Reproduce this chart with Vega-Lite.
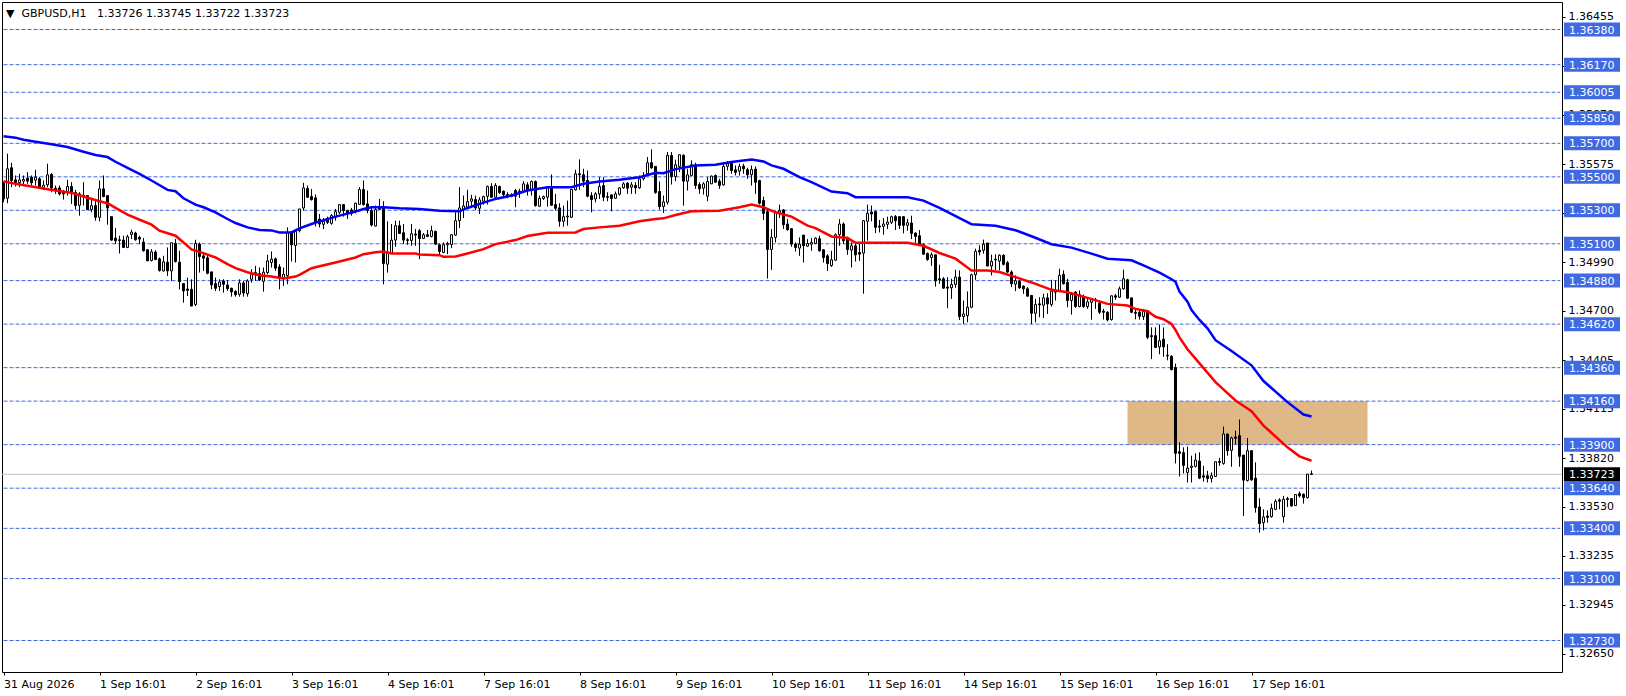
{"$schema":"https://vega.github.io/schema/vega-lite/v6.json","width":1560,"height":670,"autosize":"none","padding":{"left":2,"top":2,"right":64,"bottom":24},"background":"#ffffff","view":{"stroke":"#000000","strokeWidth":1,"fill":"#ffffff"},
"title":{"text":"▼\u00a0\u00a0GBPUSD,H1\u00a0\u00a0\u00a01.33726 1.33745 1.33722 1.33723","anchor":"start","frame":"group","orient":"top","offset":-17,"dx":4,"font":"DejaVu Sans","fontSize":11,"fontWeight":"normal","color":"#000000"},
"config":{"font":"DejaVu Sans","axis":{"labelFont":"DejaVu Sans","labelFontSize":11,"labelColor":"#000000","tickColor":"#000000","domain":false,"grid":false,"title":null}},
"datasets":{
"zone":[{"start":281,"end":341,"low":1.339,"high":1.3416}],
"levels":[{"level":1.3638},{"level":1.3617},{"level":1.36005},{"level":1.3585},{"level":1.357},{"level":1.355},{"level":1.353},{"level":1.351},{"level":1.3488},{"level":1.3462},{"level":1.3436},{"level":1.3416},{"level":1.339},{"level":1.3364},{"level":1.334},{"level":1.331},{"level":1.3273}],
"last":[{"level":1.33723}],
"blue":[{"bar":0,"p":1.35742},{"bar":3,"p":1.35734},{"bar":5,"p":1.35722},{"bar":8,"p":1.3571},{"bar":12,"p":1.35694},{"bar":16,"p":1.35678},{"bar":20,"p":1.3565},{"bar":23,"p":1.3563},{"bar":26,"p":1.35618},{"bar":28,"p":1.3559},{"bar":31,"p":1.35554},{"bar":34,"p":1.35518},{"bar":37,"p":1.35478},{"bar":41,"p":1.35422},{"bar":43,"p":1.35414},{"bar":45,"p":1.35372},{"bar":48,"p":1.35334},{"bar":50,"p":1.35318},{"bar":53,"p":1.35288},{"bar":56,"p":1.35248},{"bar":58,"p":1.35224},{"bar":61,"p":1.35198},{"bar":64,"p":1.35182},{"bar":67,"p":1.3518},{"bar":69,"p":1.35168},{"bar":72,"p":1.35168},{"bar":74,"p":1.35192},{"bar":77,"p":1.35218},{"bar":79,"p":1.35234},{"bar":84,"p":1.35268},{"bar":88,"p":1.35292},{"bar":90,"p":1.35308},{"bar":92,"p":1.35318},{"bar":95,"p":1.35318},{"bar":99,"p":1.35312},{"bar":104,"p":1.35308},{"bar":109,"p":1.35298},{"bar":114,"p":1.35294},{"bar":116,"p":1.35314},{"bar":120,"p":1.35346},{"bar":123,"p":1.35368},{"bar":127,"p":1.35388},{"bar":131,"p":1.35418},{"bar":136,"p":1.35438},{"bar":142,"p":1.35438},{"bar":145,"p":1.35458},{"bar":149,"p":1.35472},{"bar":154,"p":1.35482},{"bar":159,"p":1.35498},{"bar":163,"p":1.35524},{"bar":165,"p":1.35522},{"bar":168,"p":1.35546},{"bar":173,"p":1.35568},{"bar":178,"p":1.35572},{"bar":182,"p":1.35588},{"bar":187,"p":1.35604},{"bar":190,"p":1.35592},{"bar":192,"p":1.35568},{"bar":195,"p":1.35548},{"bar":199,"p":1.35498},{"bar":202,"p":1.35468},{"bar":207,"p":1.35412},{"bar":211,"p":1.35402},{"bar":213,"p":1.35378},{"bar":226,"p":1.35378},{"bar":230,"p":1.35358},{"bar":234,"p":1.35314},{"bar":240,"p":1.35241},{"bar":242,"p":1.35217},{"bar":248,"p":1.35207},{"bar":253,"p":1.35181},{"bar":257,"p":1.35145},{"bar":262,"p":1.35097},{"bar":267,"p":1.35077},{"bar":272,"p":1.35041},{"bar":276,"p":1.35011},{"bar":282,"p":1.35001},{"bar":285,"p":1.34971},{"bar":289,"p":1.34927},{"bar":292,"p":1.34888},{"bar":293,"p":1.34873},{"bar":294,"p":1.34814},{"bar":296,"p":1.34754},{"bar":297,"p":1.34704},{"bar":299,"p":1.34645},{"bar":301,"p":1.34595},{"bar":303,"p":1.34524},{"bar":307,"p":1.3446},{"bar":312,"p":1.34374},{"bar":315,"p":1.3428},{"bar":321,"p":1.34154},{"bar":325,"p":1.3408},{"bar":327,"p":1.34068}],
"red":[{"bar":0,"p":1.35474},{"bar":3,"p":1.35458},{"bar":7,"p":1.35442},{"bar":10,"p":1.3543},{"bar":13,"p":1.35418},{"bar":17,"p":1.35404},{"bar":20,"p":1.35382},{"bar":24,"p":1.35354},{"bar":26,"p":1.35342},{"bar":28,"p":1.35314},{"bar":31,"p":1.35274},{"bar":33,"p":1.35254},{"bar":37,"p":1.35214},{"bar":39,"p":1.35178},{"bar":43,"p":1.35148},{"bar":45,"p":1.35108},{"bar":47,"p":1.35066},{"bar":50,"p":1.35044},{"bar":53,"p":1.35018},{"bar":56,"p":1.34978},{"bar":58,"p":1.34954},{"bar":61,"p":1.3493},{"bar":64,"p":1.34912},{"bar":67,"p":1.34904},{"bar":70,"p":1.34892},{"bar":73,"p":1.34904},{"bar":74,"p":1.34914},{"bar":77,"p":1.34954},{"bar":79,"p":1.34966},{"bar":83,"p":1.34988},{"bar":88,"p":1.35018},{"bar":90,"p":1.35038},{"bar":93,"p":1.3505},{"bar":95,"p":1.35054},{"bar":97,"p":1.35042},{"bar":103,"p":1.35042},{"bar":104,"p":1.35036},{"bar":109,"p":1.35032},{"bar":110,"p":1.35022},{"bar":113,"p":1.35024},{"bar":116,"p":1.35042},{"bar":120,"p":1.35068},{"bar":123,"p":1.35098},{"bar":128,"p":1.35122},{"bar":131,"p":1.35146},{"bar":136,"p":1.35166},{"bar":143,"p":1.35168},{"bar":145,"p":1.35188},{"bar":149,"p":1.35198},{"bar":154,"p":1.35208},{"bar":159,"p":1.35234},{"bar":163,"p":1.35248},{"bar":165,"p":1.35252},{"bar":168,"p":1.35272},{"bar":172,"p":1.35294},{"bar":179,"p":1.35298},{"bar":184,"p":1.35318},{"bar":187,"p":1.35334},{"bar":190,"p":1.35318},{"bar":193,"p":1.35288},{"bar":197,"p":1.35262},{"bar":201,"p":1.35208},{"bar":203,"p":1.35194},{"bar":207,"p":1.35144},{"bar":211,"p":1.35134},{"bar":213,"p":1.35106},{"bar":226,"p":1.35106},{"bar":230,"p":1.35088},{"bar":234,"p":1.35045},{"bar":238,"p":1.35011},{"bar":242,"p":1.34941},{"bar":246,"p":1.34941},{"bar":249,"p":1.34931},{"bar":253,"p":1.34901},{"bar":257,"p":1.34869},{"bar":262,"p":1.34825},{"bar":266,"p":1.34811},{"bar":271,"p":1.34777},{"bar":276,"p":1.34741},{"bar":281,"p":1.34731},{"bar":283,"p":1.34711},{"bar":286,"p":1.34697},{"bar":288,"p":1.34664},{"bar":290,"p":1.34649},{"bar":292,"p":1.34621},{"bar":293,"p":1.34585},{"bar":294,"p":1.34541},{"bar":296,"p":1.3447},{"bar":298,"p":1.34414},{"bar":303,"p":1.34274},{"bar":308,"p":1.34164},{"bar":312,"p":1.341},{"bar":315,"p":1.34014},{"bar":321,"p":1.33884},{"bar":324,"p":1.3383},{"bar":327,"p":1.33804}],
"candles":[
{"bar":0,"o":1.35468,"h":1.35468,"l":1.35348,"c":1.35368},{"bar":1,"o":1.35372,"h":1.35638,"l":1.35342,"c":1.35548},{"bar":2,"o":1.35554,"h":1.35584,"l":1.35438,"c":1.35478},{"bar":3,"o":1.35482,"h":1.35508,"l":1.35442,"c":1.35464},{"bar":4,"o":1.35466,"h":1.35518,"l":1.35438,"c":1.35482},{"bar":5,"o":1.35474,"h":1.35508,"l":1.35448,"c":1.35484},{"bar":6,"o":1.35492,"h":1.35528,"l":1.35458,"c":1.35474},{"bar":7,"o":1.35498,"h":1.35508,"l":1.35448,"c":1.35464},{"bar":8,"o":1.3548,"h":1.35542,"l":1.35448,"c":1.35498},{"bar":9,"o":1.35488,"h":1.35498,"l":1.35428,"c":1.35438},
{"bar":10,"o":1.35436,"h":1.35478,"l":1.35422,"c":1.3545},{"bar":11,"o":1.35452,"h":1.35578,"l":1.35438,"c":1.35512},{"bar":12,"o":1.35514,"h":1.35522,"l":1.35408,"c":1.35434},{"bar":13,"o":1.35432,"h":1.35448,"l":1.35398,"c":1.35418},{"bar":14,"o":1.35434,"h":1.35448,"l":1.35388,"c":1.35398},{"bar":15,"o":1.35414,"h":1.35422,"l":1.35364,"c":1.35398},{"bar":16,"o":1.35412,"h":1.35482,"l":1.35388,"c":1.35442},{"bar":17,"o":1.35442,"h":1.35468,"l":1.35338,"c":1.35402},{"bar":18,"o":1.35406,"h":1.35422,"l":1.35304,"c":1.35328},{"bar":19,"o":1.3533,"h":1.35408,"l":1.35268,"c":1.35398},
{"bar":20,"o":1.3539,"h":1.35468,"l":1.35328,"c":1.3538},{"bar":21,"o":1.35388,"h":1.35388,"l":1.35304,"c":1.35304},{"bar":22,"o":1.35304,"h":1.35368,"l":1.35288,"c":1.35328},{"bar":23,"o":1.35328,"h":1.35354,"l":1.35238,"c":1.35258},{"bar":24,"o":1.35258,"h":1.35478,"l":1.35234,"c":1.35428},{"bar":25,"o":1.35428,"h":1.35508,"l":1.35378,"c":1.35382},{"bar":26,"o":1.35388,"h":1.35388,"l":1.35214,"c":1.35314},{"bar":27,"o":1.35262,"h":1.35262,"l":1.35118,"c":1.35122},{"bar":28,"o":1.35134,"h":1.35194,"l":1.35098,"c":1.35118},{"bar":29,"o":1.35124,"h":1.35148,"l":1.35042,"c":1.3512},
{"bar":30,"o":1.35122,"h":1.35148,"l":1.35078,"c":1.35078},{"bar":31,"o":1.35078,"h":1.35154,"l":1.35074,"c":1.35142},{"bar":32,"o":1.35156,"h":1.35184,"l":1.35128,"c":1.3517},{"bar":33,"o":1.35164,"h":1.35172,"l":1.35118,"c":1.35124},{"bar":34,"o":1.35138,"h":1.35148,"l":1.35098,"c":1.35128},{"bar":35,"o":1.3511,"h":1.35134,"l":1.35054,"c":1.35058},{"bar":36,"o":1.35064,"h":1.35068,"l":1.34998,"c":1.34998},{"bar":37,"o":1.35,"h":1.35068,"l":1.34994,"c":1.35052},{"bar":38,"o":1.3505,"h":1.35062,"l":1.35002,"c":1.35006},{"bar":39,"o":1.3501,"h":1.35018,"l":1.34934,"c":1.3494},
{"bar":40,"o":1.34938,"h":1.35028,"l":1.34934,"c":1.34992},{"bar":41,"o":1.3499,"h":1.35078,"l":1.34908,"c":1.34938},{"bar":42,"o":1.34938,"h":1.35108,"l":1.34878,"c":1.35106},{"bar":43,"o":1.35102,"h":1.35128,"l":1.34988,"c":1.34994},{"bar":44,"o":1.3499,"h":1.35058,"l":1.34828,"c":1.34874},{"bar":45,"o":1.34862,"h":1.34862,"l":1.34748,"c":1.34818},{"bar":46,"o":1.3483,"h":1.34898,"l":1.34788,"c":1.34822},{"bar":47,"o":1.34828,"h":1.34888,"l":1.34728,"c":1.34728},{"bar":48,"o":1.34738,"h":1.35124,"l":1.34728,"c":1.35102},{"bar":49,"o":1.35098,"h":1.35108,"l":1.34928,"c":1.35024},
{"bar":50,"o":1.35028,"h":1.35048,"l":1.34938,"c":1.35014},{"bar":51,"o":1.35016,"h":1.35038,"l":1.34918,"c":1.34924},{"bar":52,"o":1.34932,"h":1.34932,"l":1.34828,"c":1.34854},{"bar":53,"o":1.34862,"h":1.34898,"l":1.34818,"c":1.34834},{"bar":54,"o":1.34844,"h":1.34888,"l":1.34818,"c":1.34872},{"bar":55,"o":1.34878,"h":1.34888,"l":1.34808,"c":1.34858},{"bar":56,"o":1.34854,"h":1.34882,"l":1.34818,"c":1.34832},{"bar":57,"o":1.34834,"h":1.34838,"l":1.34784,"c":1.34812},{"bar":58,"o":1.34816,"h":1.34822,"l":1.34784,"c":1.34796},{"bar":59,"o":1.34798,"h":1.34888,"l":1.34784,"c":1.34866},
{"bar":60,"o":1.34866,"h":1.34878,"l":1.34784,"c":1.34806},{"bar":61,"o":1.34802,"h":1.34888,"l":1.34784,"c":1.34878},{"bar":62,"o":1.34888,"h":1.34948,"l":1.34868,"c":1.34918},{"bar":63,"o":1.34928,"h":1.34968,"l":1.34878,"c":1.34914},{"bar":64,"o":1.34922,"h":1.34958,"l":1.34878,"c":1.34884},{"bar":65,"o":1.34876,"h":1.34958,"l":1.34814,"c":1.3493},{"bar":66,"o":1.34928,"h":1.35034,"l":1.34918,"c":1.34998},{"bar":67,"o":1.34988,"h":1.35054,"l":1.34958,"c":1.35008},{"bar":68,"o":1.3501,"h":1.35018,"l":1.34938,"c":1.34954},{"bar":69,"o":1.34962,"h":1.34978,"l":1.34828,"c":1.34894},
{"bar":70,"o":1.34894,"h":1.34958,"l":1.34848,"c":1.34918},{"bar":71,"o":1.3491,"h":1.35198,"l":1.34858,"c":1.35168},{"bar":72,"o":1.35168,"h":1.35168,"l":1.34994,"c":1.35094},{"bar":73,"o":1.3509,"h":1.35188,"l":1.34988,"c":1.35174},{"bar":74,"o":1.35178,"h":1.35308,"l":1.35168,"c":1.35308},{"bar":75,"o":1.35314,"h":1.35464,"l":1.35298,"c":1.35434},{"bar":76,"o":1.3543,"h":1.35448,"l":1.35374,"c":1.35378},{"bar":77,"o":1.35382,"h":1.35428,"l":1.35358,"c":1.35364},{"bar":78,"o":1.35374,"h":1.35394,"l":1.35204,"c":1.35228},{"bar":79,"o":1.35248,"h":1.35278,"l":1.35198,"c":1.35218},
{"bar":80,"o":1.35216,"h":1.35254,"l":1.35188,"c":1.35234},{"bar":81,"o":1.35252,"h":1.35262,"l":1.35218,"c":1.35228},{"bar":82,"o":1.35222,"h":1.35278,"l":1.35214,"c":1.35268},{"bar":83,"o":1.35262,"h":1.35308,"l":1.35238,"c":1.35292},{"bar":84,"o":1.35288,"h":1.35334,"l":1.35278,"c":1.35334},{"bar":85,"o":1.35334,"h":1.35338,"l":1.35262,"c":1.35298},{"bar":86,"o":1.35298,"h":1.35302,"l":1.35248,"c":1.35278},{"bar":87,"o":1.35302,"h":1.35314,"l":1.35268,"c":1.35282},{"bar":88,"o":1.35298,"h":1.35346,"l":1.35282,"c":1.35342},{"bar":89,"o":1.35336,"h":1.35438,"l":1.35334,"c":1.35424},
{"bar":90,"o":1.35424,"h":1.35478,"l":1.35328,"c":1.35334},{"bar":91,"o":1.35338,"h":1.35418,"l":1.35282,"c":1.35298},{"bar":92,"o":1.35298,"h":1.35322,"l":1.35204,"c":1.35212},{"bar":93,"o":1.35206,"h":1.35328,"l":1.35204,"c":1.35304},{"bar":94,"o":1.35318,"h":1.35368,"l":1.35302,"c":1.35306},{"bar":95,"o":1.35322,"h":1.35354,"l":1.34858,"c":1.34982},{"bar":96,"o":1.34978,"h":1.35234,"l":1.34928,"c":1.35048},{"bar":97,"o":1.35044,"h":1.35218,"l":1.35042,"c":1.35122},{"bar":98,"o":1.35122,"h":1.35238,"l":1.35082,"c":1.35208},{"bar":99,"o":1.35208,"h":1.35238,"l":1.35158,"c":1.35162},
{"bar":100,"o":1.35166,"h":1.35218,"l":1.35098,"c":1.35122},{"bar":101,"o":1.35124,"h":1.35134,"l":1.35094,"c":1.3512},{"bar":102,"o":1.3512,"h":1.35218,"l":1.35088,"c":1.3516},{"bar":103,"o":1.35158,"h":1.35188,"l":1.35088,"c":1.35152},{"bar":104,"o":1.35178,"h":1.35188,"l":1.35008,"c":1.35132},{"bar":105,"o":1.35132,"h":1.35164,"l":1.35128,"c":1.35154},{"bar":106,"o":1.35154,"h":1.35182,"l":1.35142,"c":1.35144},{"bar":107,"o":1.35144,"h":1.35208,"l":1.35138,"c":1.35178},{"bar":108,"o":1.35174,"h":1.35178,"l":1.35094,"c":1.35098},{"bar":109,"o":1.35094,"h":1.35102,"l":1.35028,"c":1.35054},
{"bar":110,"o":1.35048,"h":1.35108,"l":1.35044,"c":1.35094},{"bar":111,"o":1.35094,"h":1.35112,"l":1.35038,"c":1.35102},{"bar":112,"o":1.35096,"h":1.35154,"l":1.35074,"c":1.35154},{"bar":113,"o":1.35152,"h":1.35288,"l":1.35148,"c":1.35238},{"bar":114,"o":1.35238,"h":1.35438,"l":1.35194,"c":1.35314},{"bar":115,"o":1.35302,"h":1.35388,"l":1.35254,"c":1.35326},{"bar":116,"o":1.35318,"h":1.35422,"l":1.35308,"c":1.35352},{"bar":117,"o":1.35354,"h":1.35392,"l":1.35322,"c":1.35368},{"bar":118,"o":1.35364,"h":1.35388,"l":1.35302,"c":1.35314},{"bar":119,"o":1.35312,"h":1.35378,"l":1.35278,"c":1.35362},
{"bar":120,"o":1.35354,"h":1.35388,"l":1.35334,"c":1.35382},{"bar":121,"o":1.35384,"h":1.35448,"l":1.35334,"c":1.35442},{"bar":122,"o":1.35442,"h":1.35462,"l":1.35378,"c":1.35378},{"bar":123,"o":1.35378,"h":1.35462,"l":1.35368,"c":1.35448},{"bar":124,"o":1.35442,"h":1.35448,"l":1.35398,"c":1.35406},{"bar":125,"o":1.35414,"h":1.35418,"l":1.35378,"c":1.35394},{"bar":126,"o":1.35394,"h":1.35408,"l":1.35372,"c":1.35384},{"bar":127,"o":1.35392,"h":1.35402,"l":1.35378,"c":1.35382},{"bar":128,"o":1.35418,"h":1.35428,"l":1.35318,"c":1.35384},{"bar":129,"o":1.35414,"h":1.35428,"l":1.35374,"c":1.35406},
{"bar":130,"o":1.35414,"h":1.35474,"l":1.35408,"c":1.35458},{"bar":131,"o":1.35452,"h":1.35468,"l":1.35388,"c":1.35418},{"bar":132,"o":1.35418,"h":1.35478,"l":1.35388,"c":1.35472},{"bar":133,"o":1.35472,"h":1.35478,"l":1.35322,"c":1.35328},{"bar":134,"o":1.35324,"h":1.35388,"l":1.35322,"c":1.35372},{"bar":135,"o":1.3537,"h":1.35388,"l":1.35362,"c":1.35382},{"bar":136,"o":1.35378,"h":1.35442,"l":1.35322,"c":1.35434},{"bar":137,"o":1.35432,"h":1.35514,"l":1.35328,"c":1.3533},{"bar":138,"o":1.35334,"h":1.35398,"l":1.35298,"c":1.35312},{"bar":139,"o":1.35314,"h":1.35342,"l":1.35202,"c":1.35234},
{"bar":140,"o":1.35234,"h":1.35328,"l":1.35202,"c":1.35262},{"bar":141,"o":1.3526,"h":1.35358,"l":1.35208,"c":1.35266},{"bar":142,"o":1.35258,"h":1.35424,"l":1.35254,"c":1.35424},{"bar":143,"o":1.35422,"h":1.35542,"l":1.35418,"c":1.35518},{"bar":144,"o":1.35518,"h":1.35604,"l":1.35422,"c":1.35512},{"bar":145,"o":1.35512,"h":1.35548,"l":1.35438,"c":1.35474},{"bar":146,"o":1.35478,"h":1.35538,"l":1.35378,"c":1.35384},{"bar":147,"o":1.35388,"h":1.35408,"l":1.35288,"c":1.35364},{"bar":148,"o":1.35368,"h":1.35408,"l":1.35348,"c":1.35398},{"bar":149,"o":1.35398,"h":1.35498,"l":1.35368,"c":1.35442},
{"bar":150,"o":1.35448,"h":1.35498,"l":1.35354,"c":1.35378},{"bar":151,"o":1.35382,"h":1.35408,"l":1.35354,"c":1.35378},{"bar":152,"o":1.35392,"h":1.35394,"l":1.35294,"c":1.3537},{"bar":153,"o":1.35372,"h":1.35412,"l":1.35368,"c":1.35398},{"bar":154,"o":1.35396,"h":1.35438,"l":1.35388,"c":1.35434},{"bar":155,"o":1.35434,"h":1.35468,"l":1.35428,"c":1.35458},{"bar":156,"o":1.35462,"h":1.35468,"l":1.35398,"c":1.35432},{"bar":157,"o":1.35438,"h":1.35468,"l":1.35398,"c":1.35452},{"bar":158,"o":1.35448,"h":1.35468,"l":1.35398,"c":1.35434},{"bar":159,"o":1.35434,"h":1.35508,"l":1.35428,"c":1.35488},
{"bar":160,"o":1.35488,"h":1.35528,"l":1.35478,"c":1.35502},{"bar":161,"o":1.35518,"h":1.35618,"l":1.35508,"c":1.35584},{"bar":162,"o":1.35584,"h":1.35664,"l":1.35548,"c":1.35554},{"bar":163,"o":1.35562,"h":1.35562,"l":1.35398,"c":1.35406},{"bar":164,"o":1.35412,"h":1.35472,"l":1.35304,"c":1.35322},{"bar":165,"o":1.35322,"h":1.35388,"l":1.35284,"c":1.3535},{"bar":166,"o":1.35348,"h":1.35648,"l":1.35334,"c":1.35628},{"bar":167,"o":1.35628,"h":1.35648,"l":1.35454,"c":1.35502},{"bar":168,"o":1.35502,"h":1.35602,"l":1.35474,"c":1.35572},{"bar":169,"o":1.35562,"h":1.35632,"l":1.35528,"c":1.35632},
{"bar":170,"o":1.35628,"h":1.35634,"l":1.35328,"c":1.35474},{"bar":171,"o":1.35474,"h":1.35548,"l":1.35418,"c":1.35512},{"bar":172,"o":1.35508,"h":1.35598,"l":1.35502,"c":1.35572},{"bar":173,"o":1.35572,"h":1.35584,"l":1.35428,"c":1.35448},{"bar":174,"o":1.35454,"h":1.35468,"l":1.35398,"c":1.35428},{"bar":175,"o":1.35432,"h":1.35468,"l":1.35394,"c":1.35458},{"bar":176,"o":1.35384,"h":1.35498,"l":1.35354,"c":1.35472},{"bar":177,"o":1.35458,"h":1.35508,"l":1.35458,"c":1.35504},{"bar":178,"o":1.35508,"h":1.35514,"l":1.35464,"c":1.35468},{"bar":179,"o":1.35474,"h":1.35488,"l":1.35428,"c":1.35448},
{"bar":180,"o":1.35452,"h":1.35588,"l":1.35448,"c":1.35562},{"bar":181,"o":1.35562,"h":1.35594,"l":1.35538,"c":1.35578},{"bar":182,"o":1.35584,"h":1.35594,"l":1.35518,"c":1.35538},{"bar":183,"o":1.35542,"h":1.35568,"l":1.35508,"c":1.35526},{"bar":184,"o":1.35534,"h":1.35578,"l":1.35508,"c":1.35562},{"bar":185,"o":1.35564,"h":1.35578,"l":1.35518,"c":1.35548},{"bar":186,"o":1.35542,"h":1.35554,"l":1.35488,"c":1.35512},{"bar":187,"o":1.35512,"h":1.35568,"l":1.35448,"c":1.35544},{"bar":188,"o":1.35546,"h":1.35562,"l":1.35398,"c":1.35468},{"bar":189,"o":1.35478,"h":1.35482,"l":1.35334,"c":1.35342},
{"bar":190,"o":1.35358,"h":1.35382,"l":1.35242,"c":1.35282},{"bar":191,"o":1.35292,"h":1.35308,"l":1.34892,"c":1.35066},{"bar":192,"o":1.35066,"h":1.35188,"l":1.34944,"c":1.35138},{"bar":193,"o":1.35138,"h":1.35298,"l":1.35108,"c":1.35288},{"bar":194,"o":1.35288,"h":1.35334,"l":1.35254,"c":1.35298},{"bar":195,"o":1.35302,"h":1.35308,"l":1.35188,"c":1.35214},{"bar":196,"o":1.35218,"h":1.35248,"l":1.35178,"c":1.35184},{"bar":197,"o":1.3519,"h":1.35194,"l":1.35082,"c":1.35098},{"bar":198,"o":1.35098,"h":1.35108,"l":1.35054,"c":1.35078},{"bar":199,"o":1.35074,"h":1.35138,"l":1.35028,"c":1.35098},
{"bar":200,"o":1.35152,"h":1.35152,"l":1.34988,"c":1.35088},{"bar":201,"o":1.35086,"h":1.35128,"l":1.35082,"c":1.35102},{"bar":202,"o":1.35098,"h":1.35134,"l":1.35058,"c":1.35108},{"bar":203,"o":1.35102,"h":1.35138,"l":1.35098,"c":1.35134},{"bar":204,"o":1.3513,"h":1.35148,"l":1.35054,"c":1.35058},{"bar":205,"o":1.35064,"h":1.35068,"l":1.34988,"c":1.35018},{"bar":206,"o":1.35028,"h":1.35038,"l":1.34938,"c":1.34982},{"bar":207,"o":1.3497,"h":1.35058,"l":1.34962,"c":1.35004},{"bar":208,"o":1.35002,"h":1.35162,"l":1.34998,"c":1.35154},{"bar":209,"o":1.35154,"h":1.35248,"l":1.35088,"c":1.35218},
{"bar":210,"o":1.35218,"h":1.35228,"l":1.35098,"c":1.35118},{"bar":211,"o":1.35138,"h":1.35142,"l":1.35034,"c":1.35066},{"bar":212,"o":1.35062,"h":1.35108,"l":1.34958,"c":1.35088},{"bar":213,"o":1.35088,"h":1.35108,"l":1.34994,"c":1.35034},{"bar":214,"o":1.35048,"h":1.35108,"l":1.34998,"c":1.35038},{"bar":215,"o":1.35044,"h":1.35242,"l":1.34802,"c":1.35238},{"bar":216,"o":1.35234,"h":1.35334,"l":1.35118,"c":1.35282},{"bar":217,"o":1.3529,"h":1.35328,"l":1.35234,"c":1.35278},{"bar":218,"o":1.35292,"h":1.35298,"l":1.35164,"c":1.35198},{"bar":219,"o":1.35206,"h":1.35242,"l":1.35168,"c":1.352},
{"bar":220,"o":1.35204,"h":1.35254,"l":1.35154,"c":1.35218},{"bar":221,"o":1.35216,"h":1.35262,"l":1.35188,"c":1.3523},{"bar":222,"o":1.35228,"h":1.35268,"l":1.35218,"c":1.35262},{"bar":223,"o":1.35262,"h":1.35272,"l":1.35182,"c":1.35238},{"bar":224,"o":1.35262,"h":1.35262,"l":1.35188,"c":1.3521},{"bar":225,"o":1.35262,"h":1.35262,"l":1.35162,"c":1.3521},{"bar":226,"o":1.3521,"h":1.35248,"l":1.35178,"c":1.35226},{"bar":227,"o":1.35224,"h":1.35268,"l":1.35128,"c":1.35162},{"bar":228,"o":1.35164,"h":1.35168,"l":1.35102,"c":1.35144},{"bar":229,"o":1.35148,"h":1.35182,"l":1.35088,"c":1.35094},
{"bar":230,"o":1.35094,"h":1.35102,"l":1.35034,"c":1.35038},{"bar":231,"o":1.35042,"h":1.35048,"l":1.34998,"c":1.35006},{"bar":232,"o":1.35018,"h":1.35048,"l":1.34968,"c":1.35034},{"bar":233,"o":1.35034,"h":1.35034,"l":1.34844,"c":1.34878},{"bar":234,"o":1.34891,"h":1.34975,"l":1.34861,"c":1.34885},{"bar":235,"o":1.34891,"h":1.34901,"l":1.34831,"c":1.34835},{"bar":236,"o":1.34841,"h":1.34901,"l":1.34715,"c":1.34835},{"bar":237,"o":1.34837,"h":1.34891,"l":1.34771,"c":1.34857},{"bar":238,"o":1.34857,"h":1.34945,"l":1.34837,"c":1.34901},{"bar":239,"o":1.34901,"h":1.34941,"l":1.34645,"c":1.34665},
{"bar":240,"o":1.34665,"h":1.34761,"l":1.34621,"c":1.34681},{"bar":241,"o":1.34671,"h":1.34815,"l":1.34631,"c":1.34721},{"bar":242,"o":1.34721,"h":1.34921,"l":1.34715,"c":1.34915},{"bar":243,"o":1.34915,"h":1.35071,"l":1.34885,"c":1.35055},{"bar":244,"o":1.35061,"h":1.35091,"l":1.35031,"c":1.35051},{"bar":245,"o":1.35061,"h":1.35125,"l":1.35041,"c":1.35097},{"bar":246,"o":1.35105,"h":1.35105,"l":1.34967,"c":1.34967},{"bar":247,"o":1.34967,"h":1.35035,"l":1.34911,"c":1.34995},{"bar":248,"o":1.35007,"h":1.35037,"l":1.34941,"c":1.35003},{"bar":249,"o":1.34997,"h":1.35037,"l":1.34941,"c":1.35031},
{"bar":250,"o":1.35031,"h":1.35037,"l":1.34971,"c":1.34977},{"bar":251,"o":1.34987,"h":1.34997,"l":1.34927,"c":1.34931},{"bar":252,"o":1.34931,"h":1.34941,"l":1.34841,"c":1.34861},{"bar":253,"o":1.34859,"h":1.34911,"l":1.34817,"c":1.34879},{"bar":254,"o":1.34875,"h":1.34885,"l":1.34831,"c":1.34837},{"bar":255,"o":1.34847,"h":1.34851,"l":1.34801,"c":1.34831},{"bar":256,"o":1.34831,"h":1.34841,"l":1.34785,"c":1.34787},{"bar":257,"o":1.34791,"h":1.34795,"l":1.34621,"c":1.34685},{"bar":258,"o":1.34685,"h":1.34771,"l":1.34631,"c":1.34737},{"bar":259,"o":1.34741,"h":1.34781,"l":1.34661,"c":1.34735},
{"bar":260,"o":1.34733,"h":1.34801,"l":1.34657,"c":1.34777},{"bar":261,"o":1.34777,"h":1.34805,"l":1.34681,"c":1.34741},{"bar":262,"o":1.34737,"h":1.34885,"l":1.34725,"c":1.34817},{"bar":263,"o":1.34817,"h":1.34881,"l":1.34761,"c":1.34811},{"bar":264,"o":1.34817,"h":1.34951,"l":1.34811,"c":1.34911},{"bar":265,"o":1.34917,"h":1.34941,"l":1.34857,"c":1.34861},{"bar":266,"o":1.34869,"h":1.34891,"l":1.34721,"c":1.34761},{"bar":267,"o":1.34761,"h":1.34811,"l":1.34677,"c":1.34797},{"bar":268,"o":1.34811,"h":1.34817,"l":1.34717,"c":1.34725},{"bar":269,"o":1.34725,"h":1.34821,"l":1.34721,"c":1.34797},
{"bar":270,"o":1.34785,"h":1.34797,"l":1.34717,"c":1.34725},{"bar":271,"o":1.34725,"h":1.34777,"l":1.34711,"c":1.34753},{"bar":272,"o":1.34751,"h":1.34777,"l":1.34647,"c":1.34773},{"bar":273,"o":1.34765,"h":1.34777,"l":1.34711,"c":1.34761},{"bar":274,"o":1.34745,"h":1.34761,"l":1.34681,"c":1.34691},{"bar":275,"o":1.34697,"h":1.34711,"l":1.34647,"c":1.34691},{"bar":276,"o":1.34691,"h":1.34697,"l":1.34637,"c":1.34645},{"bar":277,"o":1.34647,"h":1.34791,"l":1.34641,"c":1.34789},{"bar":278,"o":1.34789,"h":1.34801,"l":1.34765,"c":1.34781},{"bar":279,"o":1.34781,"h":1.34845,"l":1.34777,"c":1.34831},
{"bar":280,"o":1.34831,"h":1.34945,"l":1.34825,"c":1.34891},{"bar":281,"o":1.34885,"h":1.34891,"l":1.34771,"c":1.34775},{"bar":282,"o":1.34777,"h":1.34777,"l":1.34685,"c":1.34691},{"bar":283,"o":1.34691,"h":1.34711,"l":1.34649,"c":1.34685},{"bar":284,"o":1.34691,"h":1.34705,"l":1.34647,"c":1.34667},{"bar":285,"o":1.34665,"h":1.34711,"l":1.34645,"c":1.34697},{"bar":286,"o":1.34701,"h":1.34701,"l":1.34531,"c":1.34541},{"bar":287,"o":1.34551,"h":1.34601,"l":1.34411,"c":1.34545},{"bar":288,"o":1.34551,"h":1.34601,"l":1.34477,"c":1.34481},{"bar":289,"o":1.34484,"h":1.34617,"l":1.3444,"c":1.34521},
{"bar":290,"o":1.3453,"h":1.346,"l":1.34424,"c":1.34484},{"bar":291,"o":1.34434,"h":1.345,"l":1.34404,"c":1.3443},{"bar":292,"o":1.34428,"h":1.34434,"l":1.34344,"c":1.34348},{"bar":293,"o":1.3436,"h":1.34384,"l":1.33788,"c":1.33848},{"bar":294,"o":1.33858,"h":1.33914,"l":1.3371,"c":1.33848},{"bar":295,"o":1.33852,"h":1.33884,"l":1.33728,"c":1.33776},{"bar":296,"o":1.33734,"h":1.33888,"l":1.33674,"c":1.3376},{"bar":297,"o":1.33764,"h":1.33834,"l":1.33674,"c":1.33772},{"bar":298,"o":1.3377,"h":1.33848,"l":1.33764,"c":1.33808},{"bar":299,"o":1.33802,"h":1.33854,"l":1.33694,"c":1.337},
{"bar":300,"o":1.33714,"h":1.33774,"l":1.3368,"c":1.33706},{"bar":301,"o":1.33714,"h":1.33744,"l":1.33674,"c":1.33698},{"bar":302,"o":1.33698,"h":1.33734,"l":1.33674,"c":1.33714},{"bar":303,"o":1.3371,"h":1.33798,"l":1.3371,"c":1.33798},{"bar":304,"o":1.338,"h":1.3382,"l":1.33774,"c":1.33794},{"bar":305,"o":1.33788,"h":1.34008,"l":1.3378,"c":1.33964},{"bar":306,"o":1.33964,"h":1.33964,"l":1.33834,"c":1.33864},{"bar":307,"o":1.33866,"h":1.33948,"l":1.33768,"c":1.3394},{"bar":308,"o":1.33946,"h":1.33984,"l":1.33904,"c":1.33938},{"bar":309,"o":1.33954,"h":1.3405,"l":1.33768,"c":1.3383},
{"bar":310,"o":1.33838,"h":1.33838,"l":1.33474,"c":1.33688},{"bar":311,"o":1.33686,"h":1.3394,"l":1.3368,"c":1.33864},{"bar":312,"o":1.33864,"h":1.33864,"l":1.33684,"c":1.3369},{"bar":313,"o":1.337,"h":1.33794,"l":1.33494,"c":1.33524},{"bar":314,"o":1.33528,"h":1.3358,"l":1.33374,"c":1.33428},{"bar":315,"o":1.33434,"h":1.33514,"l":1.33388,"c":1.33468},{"bar":316,"o":1.33474,"h":1.33508,"l":1.33434,"c":1.33466},{"bar":317,"o":1.3347,"h":1.33548,"l":1.33464,"c":1.3352},{"bar":318,"o":1.33514,"h":1.33574,"l":1.33508,"c":1.33562},{"bar":319,"o":1.3357,"h":1.3358,"l":1.33514,"c":1.33562},
{"bar":320,"o":1.3347,"h":1.33594,"l":1.33434,"c":1.33574},{"bar":321,"o":1.33578,"h":1.33588,"l":1.33528,"c":1.33572},{"bar":322,"o":1.33578,"h":1.3358,"l":1.3353,"c":1.33534},{"bar":323,"o":1.33536,"h":1.33604,"l":1.33534,"c":1.33602},{"bar":324,"o":1.33608,"h":1.3362,"l":1.33584,"c":1.33594},{"bar":325,"o":1.33604,"h":1.33608,"l":1.33548,"c":1.33584},{"bar":326,"o":1.33584,"h":1.33724,"l":1.33578,"c":1.33724},{"bar":327,"o":1.33726,"h":1.33745,"l":1.33722,"c":1.33723}
]},
"layer":[
{"data":{"name":"zone"},"mark":{"type":"rect","color":"#DEB887"},"encoding":{"x":{"field":"start","type":"quantitative","scale":{"domain":[-0.375,389.625],"nice":false,"zero":false,"padding":0}},"x2":{"field":"end"},"y":{"field":"low","type":"quantitative","scale":{"domain":[1.325419,1.365443],"nice":false,"zero":false,"padding":0}},"y2":{"field":"high"}}},
{"data":{"name":"last"},"mark":{"type":"rule","color":"#C0C0C0","strokeWidth":1},"encoding":{"x":{"datum":-0.375,"type":"quantitative"},"x2":{"datum":389.625},"y":{"field":"level","type":"quantitative"}}},
{"data":{"name":"levels"},"mark":{"type":"rule","color":"#4169E1","strokeWidth":1,"strokeDash":[4,2]},"encoding":{"x":{"datum":0,"type":"quantitative"},"x2":{"datum":389.2},"y":{"field":"level","type":"quantitative"}}},
{"data":{"name":"candles"},"mark":{"type":"rule","color":"#000000","strokeWidth":1},"encoding":{
"x":{"field":"bar","type":"quantitative","axis":{"title":null,"values":[0,24,48,72,96,120,144,168,192,216,240,264,288,312],"tickSize":3,"tickWidth":1,"labelPadding":3,"labelAlign":"left","labelBaseline":"top","labelAngle":0,"labelOverlap":false,"labelFlush":false,"labelBound":false,"labelExpr":"['31 Aug 2026','1 Sep 16:01','2 Sep 16:01','3 Sep 16:01','4 Sep 16:01','7 Sep 16:01','8 Sep 16:01','9 Sep 16:01','10 Sep 16:01','11 Sep 16:01','14 Sep 16:01','15 Sep 16:01','16 Sep 16:01','17 Sep 16:01'][round(datum.value/24)]"}},
"y":{"field":"l","type":"quantitative","axis":{"title":null,"orient":"right","values":[1.36455,1.3616,1.3587,1.35575,1.35285,1.3499,1.347,1.34405,1.34115,1.3382,1.3353,1.33235,1.32945,1.3265],"format":".5f","tickSize":3,"tickWidth":1,"labelPadding":3,"labelOverlap":false,"labelFlush":false,"labelBound":false,"labelBaseline":"middle"}},
"y2":{"field":"h"}}},
{"data":{"name":"candles"},"mark":{"type":"bar","stroke":"#000000","strokeWidth":1},"encoding":{"x":{"field":"bar","type":"quantitative","scale":{"padding":0}},"y":{"field":"o","type":"quantitative"},"y2":{"field":"c"},"size":{"value":2},"fill":{"condition":{"test":"datum.c < datum.o","value":"#000000"},"value":"#ffffff"}}},
{"data":{"name":"blue"},"mark":{"type":"line","color":"#0000FF","strokeWidth":2.5},"encoding":{"x":{"field":"bar","type":"quantitative"},"y":{"field":"p","type":"quantitative"}}},
{"data":{"name":"red"},"mark":{"type":"line","color":"#FF0000","strokeWidth":2.5},"encoding":{"x":{"field":"bar","type":"quantitative"},"y":{"field":"p","type":"quantitative"}}},
{"data":{"name":"levels"},"mark":{"type":"rule","color":"#4169E1","strokeWidth":14},"encoding":{"x":{"datum":390.125,"type":"quantitative"},"x2":{"datum":404.125},"y":{"field":"level","type":"quantitative"}}},
{"data":{"name":"last"},"mark":{"type":"rule","color":"#000000","strokeWidth":14},"encoding":{"x":{"datum":390.125,"type":"quantitative"},"x2":{"datum":404.125},"y":{"field":"level","type":"quantitative"}}},
{"data":{"name":"levels"},"mark":{"type":"text","color":"#ffffff","align":"left","baseline":"middle","font":"DejaVu Sans","fontSize":11,"dy":1},"encoding":{"x":{"datum":391.375,"type":"quantitative"},"y":{"field":"level","type":"quantitative"},"text":{"field":"level","type":"quantitative","format":".5f"}}},
{"data":{"name":"last"},"mark":{"type":"text","color":"#ffffff","align":"left","baseline":"middle","font":"DejaVu Sans","fontSize":11,"dy":1},"encoding":{"x":{"datum":391.375,"type":"quantitative"},"y":{"field":"level","type":"quantitative"},"text":{"field":"level","type":"quantitative","format":".5f"}}}
]}
